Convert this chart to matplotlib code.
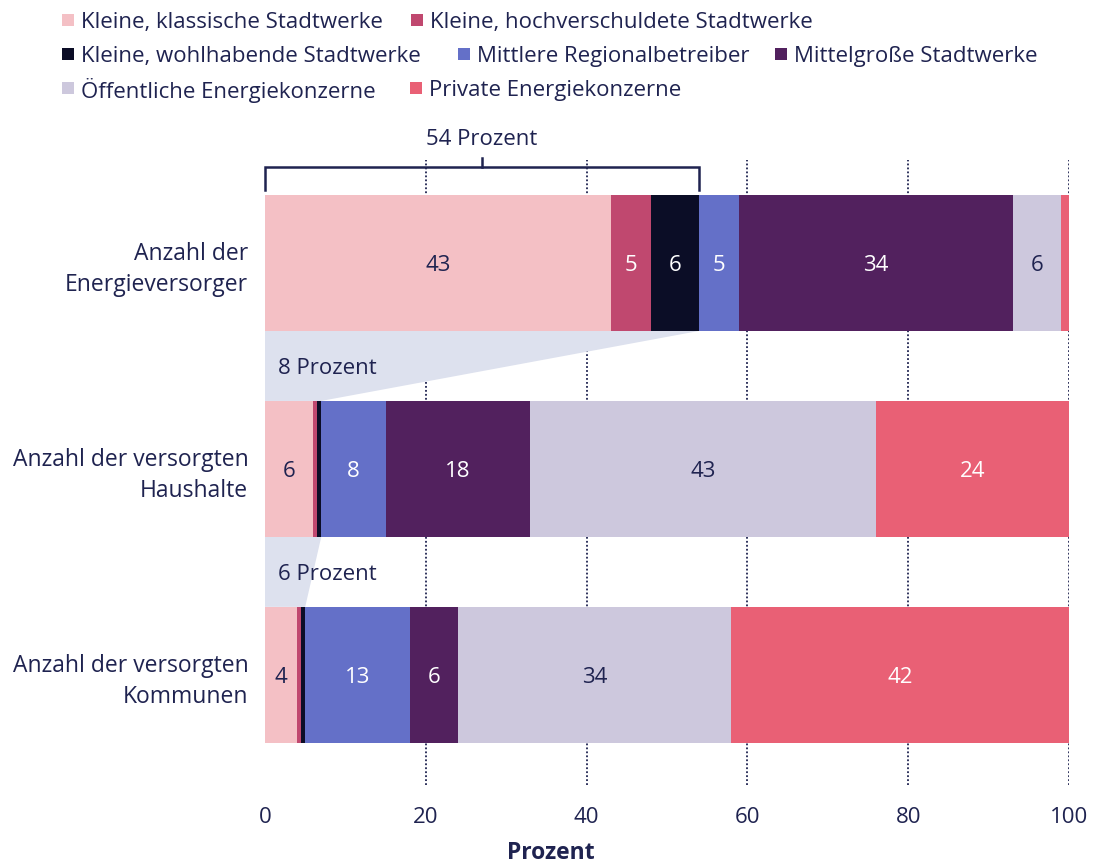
import matplotlib
matplotlib.use("Agg")
import matplotlib.pyplot as plt
from matplotlib.patches import Polygon, Rectangle

plt.rcParams['font.family'] = ['Open Sans', 'DejaVu Sans']

categories = ["Anzahl der\nEnergieversorger", "Anzahl der versorgten\nHaushalte", "Anzahl der versorgten\nKommunen"]
series_names = ["Kleine, klassische Stadtwerke", "Kleine, hochverschuldete Stadtwerke",
                "Kleine, wohlhabende Stadtwerke", "Mittlere Regionalbetreiber",
                "Mittelgroße Stadtwerke", "Öffentliche Energiekonzerne", "Private Energiekonzerne"]
klassisch = [43, 6, 4]
hochverschuldet = [5, 0.5, 0.5]
wohlhabend = [6, 0.5, 0.5]
regional = [5, 8, 13]
mittelgross = [34, 18, 6]
oeffentlich = [6, 43, 34]
privat = [1, 24, 42]
shown_labels = [["43", "5", "6", "5", "34", "6", ""],
                ["6", "", "", "8", "18", "43", "24"],
                ["4", "", "", "13", "6", "34", "42"]]
small_share_labels = ["54 Prozent", "8 Prozent", "6 Prozent"]
xticks = [0, 20, 40, 60, 80, 100]

series = [klassisch, hochverschuldet, wohlhabend, regional, mittelgross, oeffentlich, privat]
colors = ["#f4c0c5", "#c0486f", "#0b0d26", "#6470c8", "#52215e", "#cdc8dd", "#e96075"]
text_colors = ["#1f2350", "white", "white", "white", "white", "#1f2350", "white"]
navy = "#1f2350"
FS = 16

fig = plt.figure(figsize=(10.93, 8.67), dpi=100)
W, H = 1093, 867
ax = fig.add_axes([265 / W, 1 - 785 / H, 804 / W, 625 / H])

bar_h = 0.66
y = list(range(len(categories)))
left = [0.0] * len(categories)
for i, vals in enumerate(series):
    ax.barh(y, vals, left=left, height=bar_h, color=colors[i], zorder=3, linewidth=0)
    for j, v in enumerate(vals):
        lab = shown_labels[j][i]
        if lab:
            ax.text(left[j] + v / 2, y[j], lab, ha='center', va='center_baseline',
                    color=text_colors[i], fontsize=FS, zorder=5)
    left = [l + v for l, v in zip(left, vals)]

# small-company cumulative shares for funnel wedges
small = [klassisch[j] + hochverschuldet[j] + wohlhabend[j] for j in range(3)]
wedge_col = "#dde1ee"
for j in range(2):
    poly = Polygon([(0, y[j] + bar_h / 2), (small[j], y[j] + bar_h / 2),
                    (small[j + 1], y[j + 1] - bar_h / 2), (0, y[j + 1] - bar_h / 2)],
                   closed=True, facecolor=wedge_col, edgecolor='none', zorder=2)
    ax.add_patch(poly)
    ax.text(1.6, (y[j] + y[j + 1]) / 2, small_share_labels[j + 1], ha='left',
            va='center_baseline', fontsize=FS, color=navy, zorder=4)

# bracket above first bar
yb = -0.466
ax.plot([0, 0, small[0], small[0]], [-0.355, yb, yb, -0.355], color=navy, lw=1.8,
        clip_on=False, zorder=4, solid_joinstyle='miter')
ax.plot([small[0] / 2, small[0] / 2], [yb, -0.51], color=navy, lw=1.8, clip_on=False, zorder=4)
ax.text(small[0] / 2, -0.612, small_share_labels[0], ha='center', va='center_baseline',
        fontsize=FS, color=navy)

ax.set_xlim(0, 100)
ax.set_ylim(2.535, -0.5)
ax.set_xticks(xticks)
ax.set_xticklabels([str(t) for t in xticks], fontsize=FS, color=navy)
ax.set_yticks(y)
ax.set_yticklabels(categories, fontsize=16.5, color=navy, linespacing=1.4)
ax.tick_params(axis='both', length=0)
ax.tick_params(axis='x', pad=16)
ax.tick_params(axis='y', pad=12)
for s in ax.spines.values():
    s.set_visible(False)
for t in xticks[1:]:
    ax.axvline(t, color=navy, lw=1.3, ls=(0, (1, 1.2)), zorder=1)

fig.text(551 / W, 1 - 853 / H, "Prozent", ha='center', va='center', fontsize=16.5,
         fontweight='bold', color=navy)

# legend
leg_items = [(0, 62, 1 - 20 / H), (1, 411, 1 - 20 / H),
             (2, 62, 1 - 54 / H), (3, 458, 1 - 54 / H), (4, 775, 1 - 54 / H),
             (5, 62, 1 - 88 / H), (6, 410, 1 - 88 / H)]
sq = 12
for idx, px, fy in leg_items:
    fig.patches.append(Rectangle((px / W, fy - sq / 2 / H), sq / W, sq / H,
                                 transform=fig.transFigure, facecolor=colors[idx],
                                 edgecolor='none'))
    fig.text((px + sq + 7) / W, fy, series_names[idx], ha='left', va='center_baseline',
             fontsize=FS, color=navy)

fig.savefig("out.png", dpi=100)
